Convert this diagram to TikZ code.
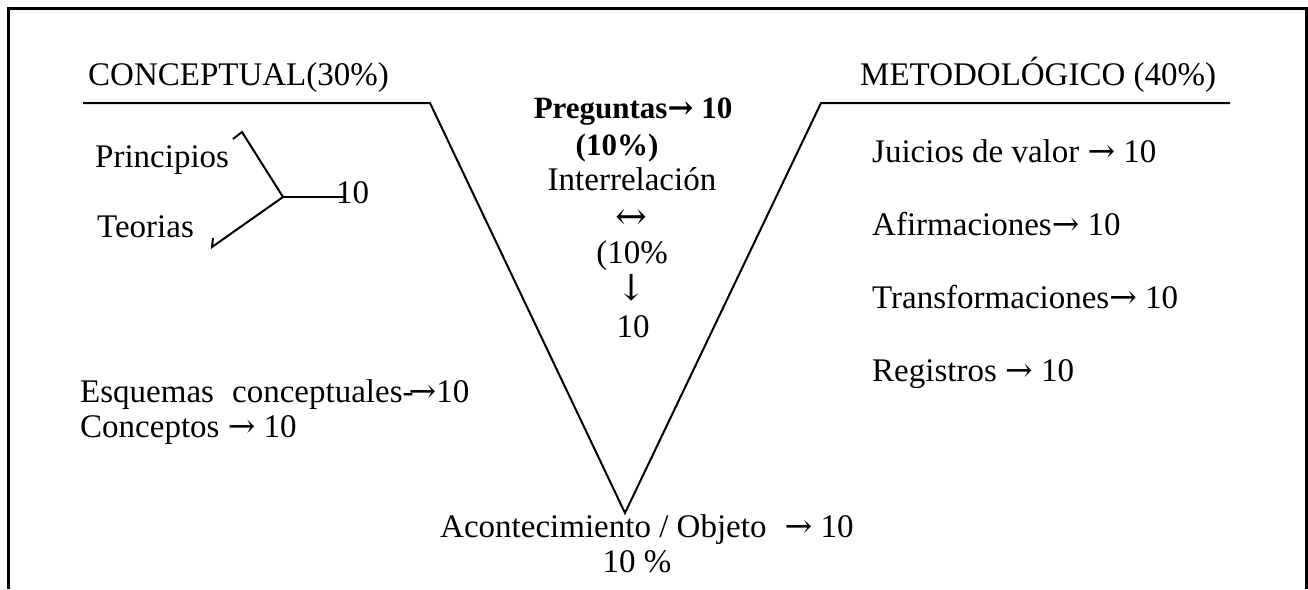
\documentclass[tikz,border=0pt]{standalone}
\usepackage{fontspec}
\setmainfont{Liberation Serif}
\newfontfamily\arrfont{DejaVu Serif}
\newcommand{\rarr}{{\arrfont →}}
\begin{document}
\begin{tikzpicture}[x=1pt,y=-1pt,
  txt/.style={inner sep=0pt, anchor=base west, font=\fontsize{33}{38}\selectfont},
  ctxt/.style={inner sep=0pt, anchor=base, font=\fontsize{33}{38}\selectfont},
  btxt/.style={inner sep=0pt, anchor=base, font=\fontsize{31}{38}\selectfont\bfseries},
  sym/.style={inner sep=0pt, anchor=center},
  ln/.style={line width=2pt, line join=miter},
  frame/.style={line width=3pt}]
\useasboundingbox (0,0) rectangle (1308,589);
\fill[white] (0,0) rectangle (1308,589);
% frame (open at the bottom)
\coordinate (fbl) at (8,589);
\coordinate (ftl) at (8,8);
\coordinate (ftr) at (1306,8);
\coordinate (fbr) at (1306,589);
\draw[frame] (fbl) -- (ftl) -- (ftr) -- (fbr);
% V shape
\coordinate (l0) at (83,103);
\coordinate (l1) at (430,103);
\coordinate (apex) at (625,513);
\coordinate (r1) at (821,103);
\coordinate (r0) at (1230,103);
\draw[ln] (l0) -- (l1) -- (apex) -- (r1) -- (r0);
% headings
\node[txt] (conc) at (88,85) {CONCEPTUAL(30\%)};
\node[txt] (metod) at (860,85) {METODOLÓGICO (40\%)};
% left: Y shape
\node[txt] (prin) at (95,167) {Principios};
\node[txt] (teo) at (97,237) {Teorias};
\coordinate (jn) at (283,197);
\coordinate (pe) at (242,132);
\coordinate (pt) at (233,139);
\coordinate (te) at (212,247);
\coordinate (tt) at (213,238);
\coordinate (he) at (345,197);
\draw[ln] (pt) -- (pe) -- (jn) -- (te) -- (tt);
\draw[ln] (jn) -- (he);
\node[txt] (ten) at (336,203) {10};
% left bottom
\node[txt] (esq) at (80,402) {Esquemas\hspace{0.3em} conceptuales-\kern-0.15em\rarr10};
\node[txt] (concp) at (80,437) {Conceptos \rarr\ 10};
% centre
\node[btxt] (preg) at (633,118) {Preguntas\rarr\ 10};
\node[btxt] (pct1) at (617,155) {(10\%)};
\node[ctxt] (inter) at (632,190) {Interrelación};
\node[sym, font=\fontsize{38}{44}\arrfont] (dbl) at (631,219) {↔};
\node[ctxt] (pct2) at (632,263) {(10\%};
\node[sym, font=\fontsize{36}{42}\arrfont] (dn) at (632,288) {↓};
\node[ctxt] (tenc) at (633,337) {10};
% right
\node[txt] (jui) at (872,162) {Juicios de valor \rarr\ 10};
\node[txt] (afi) at (872,235) {Afirmaciones\rarr\ 10};
\node[txt] (tra) at (872,308) {Transformaciones\rarr\ 10};
\node[txt] (reg) at (872,381) {Registros \rarr\ 10};
% bottom
\node[txt] (acon) at (440,537) {Acontecimiento / Objeto\hspace{0.3em} \rarr\ 10};
\node[ctxt] (pct3) at (637,572) {10 \%};
\end{tikzpicture}
\end{document}
